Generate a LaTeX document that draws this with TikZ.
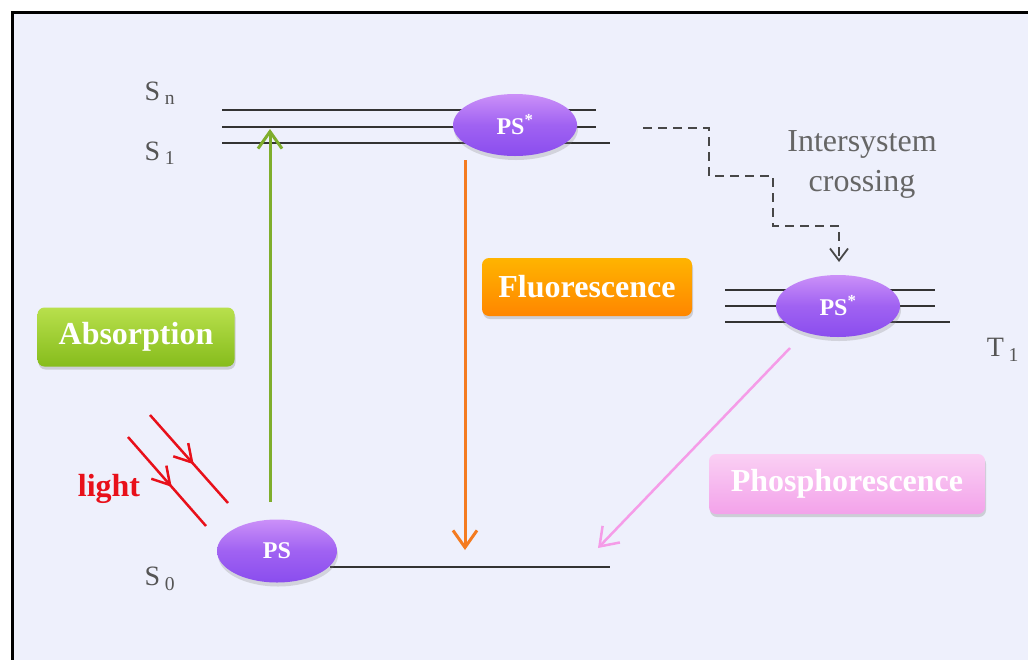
\documentclass[tikz,border=0pt]{standalone}
\usepackage{fontspec}
\setmainfont{Liberation Serif}
\usetikzlibrary{shapes.geometric,arrows.meta,shadows,decorations.markings}
\definecolor{bg}{HTML}{EEF0FC}
\definecolor{lvlc}{HTML}{333333}
\definecolor{lblc}{HTML}{555555}
\definecolor{molTop}{HTML}{CB90F8}
\definecolor{molMid}{HTML}{A062F2}
\definecolor{molBot}{HTML}{8A4DEE}
\definecolor{grnTop}{HTML}{B8E04C}
\definecolor{grnBot}{HTML}{86BC1C}
\definecolor{orgTop}{HTML}{FFB400}
\definecolor{orgBot}{HTML}{FF8600}
\definecolor{pnkTop}{HTML}{FAD0F4}
\definecolor{pnkBot}{HTML}{F3A2EA}
\definecolor{grnArr}{HTML}{7FAE2C}
\definecolor{orgArr}{HTML}{F47B20}
\definecolor{pnkArr}{HTML}{F59CE8}
\definecolor{lightred}{HTML}{E8101A}
\newcommand{\fsbig}{\fontsize{32}{36}\selectfont}
\newcommand{\fslab}{\fontsize{28}{32}\selectfont}
\newcommand{\fsmol}{\fontsize{24}{28}\selectfont}
\tikzset{
  lvl/.style={draw=lvlc, line width=2pt},
  mol/.style={ellipse, minimum width=124pt, minimum height=62pt, inner sep=0pt,
    top color=molTop, bottom color=molBot, middle color=molMid, draw=none,
    text=white, font=\fsmol\bfseries,
    drop shadow={opacity=0.25, shadow xshift=1pt, shadow yshift=-4pt}},
  boxlab/.style={rounded corners=7pt, inner sep=0pt, text=white, font=\fsbig\bfseries,
    drop shadow={opacity=0.3, shadow xshift=1pt, shadow yshift=-3pt}},
  lvllab/.style={text=lblc, font=\fslab, inner sep=0pt},
  barb/.style={-{Straight Barb[length=17pt,width=24pt]}},
  raylight/.style={draw=lightred, line width=2.5pt,
    postaction={decorate},
    decoration={markings, mark=at position 0.56 with {\arrow{Straight Barb[length=17pt,width=20pt]}}}}
}
\begin{document}
\begin{tikzpicture}[x=1pt,y=-1pt]
\useasboundingbox (0,0) rectangle (1028,659);
\clip (0,0) rectangle (1028,659);
\fill[white] (0,0) rectangle (1028,659);
\draw[line width=3pt, fill=bg] (12,12) rectangle (1045,675);

% level lines
\draw[lvl] (222,110) -- (596,110);
\draw[lvl] (222,127) -- (596,127);
\draw[lvl] (222,143) -- (610,143);
\draw[lvl] (725,290) -- (935,290);
\draw[lvl] (725,306) -- (935,306);
\draw[lvl] (725,322) -- (950,322);
\draw[lvl] (330,567) -- (610,567);

% level labels
\node[lvllab] (lSn) at (160,93) {S\,\textsubscript{n}};
\node[lvllab] (lS1) at (160,153) {S\,\textsubscript{1}};
\node[lvllab] (lS0) at (160,579) {S\,\textsubscript{0}};
\node[lvllab] (lT1) at (1003,350) {T\,\textsubscript{1}};

% molecules
\node[mol] (psS) at (515,125) {PS\textsuperscript{*}};
\node[mol] (psT) at (838,306) {PS\textsuperscript{*}};
\node[mol, minimum width=120pt, minimum height=63pt] (ps0) at (277,551) {PS};

% boxes
\node[boxlab, minimum width=197pt, minimum height=59pt, top color=grnTop, bottom color=grnBot] (abs) at (136,337) {Absorption};
\node[boxlab, minimum width=210pt, minimum height=58pt, top color=orgTop, bottom color=orgBot] (flu) at (587,287) {Fluorescence};
\node[boxlab, minimum width=276pt, minimum height=60pt, top color=pnkTop, bottom color=pnkBot] (pho) at (847,484) {Phosphorescence};

% intersystem crossing text
\node[text=lblc!90, font=\fontsize{32}{40}\selectfont, align=center, inner sep=0pt] (isc) at (862,164) {Intersystem\\crossing};

% light
\node[text=lightred, font=\fsbig\bfseries, inner sep=0pt] (light) at (109,489) {light};
\coordinate (r1a) at (150,415); \coordinate (r1b) at (228,503);
\coordinate (r2a) at (128,437); \coordinate (r2b) at (206,526);
\path[raylight] (r1a) -- (r1b);
\path[raylight] (r2a) -- (r2b);

% absorption arrow
\coordinate (absA) at (270,502);
\coordinate (absB) at (270,129);
\draw[barb, draw=grnArr, line width=3pt] (absA) -- (absB);

% fluorescence arrow
\coordinate (fluA) at (465,160);
\coordinate (fluB) at (465,550);
\draw[barb, draw=orgArr, line width=3pt] (fluA) -- (fluB);

% phosphorescence arrow
\coordinate (phoA) at (790,348);
\coordinate (phoB) at (598,548);
\draw[barb, draw=pnkArr, line width=2.5pt] (phoA) -- (phoB);

% intersystem crossing
\coordinate (iscA) at (643,128);
\coordinate (iscB) at (839,262);
\draw[draw=lvlc!90, line width=1.8pt, dash pattern=on 9pt off 6pt, -{Straight Barb[length=12pt,width=18pt]}]
  (iscA) -- (709,128) -- (709,176) -- (773,176) -- (773,226) -- (839,226) -- (iscB);
\end{tikzpicture}
\end{document}
